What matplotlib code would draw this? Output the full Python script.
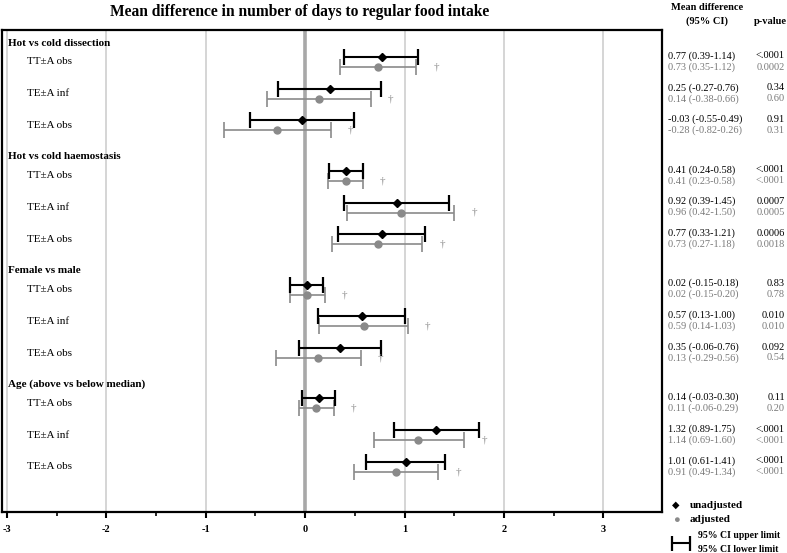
import matplotlib
matplotlib.use("Agg")
from matplotlib import pyplot as plt

plt.rcParams['font.family'] = ['Liberation Serif', 'DejaVu Serif']

groups = ["Hot vs cold dissection", "Hot vs cold haemostasis",
          "Female vs male", "Age (above vs below median)"]
rows = ["TT\u00b1A obs", "TE\u00b1A inf", "TE\u00b1A obs"]

# unadjusted: mean, lower, upper, p
unadj_mean = [0.77, 0.25, -0.03, 0.41, 0.92, 0.77, 0.02, 0.57, 0.35, 0.14, 1.32, 1.01]
unadj_lo = [0.39, -0.27, -0.55, 0.24, 0.39, 0.33, -0.15, 0.13, -0.06, -0.03, 0.89, 0.61]
unadj_hi = [1.14, 0.76, 0.49, 0.58, 1.45, 1.21, 0.18, 1.00, 0.76, 0.30, 1.75, 1.41]
unadj_p = ["<.0001", "0.34", "0.91", "<.0001", "0.0007", "0.0006",
           "0.83", "0.010", "0.092", "0.11", "<.0001", "<.0001"]

# adjusted
adj_mean = [0.73, 0.14, -0.28, 0.41, 0.96, 0.73, 0.02, 0.59, 0.13, 0.11, 1.14, 0.91]
adj_lo = [0.35, -0.38, -0.82, 0.23, 0.42, 0.27, -0.15, 0.14, -0.29, -0.06, 0.69, 0.49]
adj_hi = [1.12, 0.66, 0.26, 0.58, 1.50, 1.18, 0.20, 1.03, 0.56, 0.29, 1.60, 1.34]
adj_p = ["0.0002", "0.60", "0.31", "<.0001", "0.0005", "0.0018",
         "0.78", "0.010", "0.54", "0.20", "<.0001", "<.0001"]

xticks = [-3, -2, -1, 0, 1, 2, 3]

W, H = 787, 553
fig = plt.figure(figsize=(W / 100, H / 100), dpi=100)
ax = fig.add_axes([2 / W, 1 - 512 / H, 660 / W, 482 / H])
ax.set_xlim(-3.05, 3.59)
ax.set_ylim(512, 30)  # y measured in pixel rows from the top

black = "#000000"
grey = "#8a8a8a"
tgrey = "#7a7a7a"

for t in xticks:
    if t == 0:
        ax.axvline(t, color="#a8a8a8", lw=2.6, zorder=0)
    else:
        ax.axvline(t, color="#d2d2d2", lw=1.3, zorder=0)


def fx(px):
    return px / W


def fy(py):
    return 1 - py / H


k = 0
for g, name in enumerate(groups):
    hy = 43 + g * 113.8
    ax.text(-2.99, hy, name, fontsize=8, fontweight="bold", va="center", ha="left")
    for i, r in enumerate(rows):
        y = hy + 19 + i * 31.7
        ax.text(-2.8, y, r, fontsize=8, va="center", ha="left")
        yb = y - 5
        yg = y + 5
        ax.errorbar(unadj_mean[k], yb,
                    xerr=[[unadj_mean[k] - unadj_lo[k]], [unadj_hi[k] - unadj_mean[k]]],
                    fmt="D", color=black, ms=4.5, lw=1.5, capsize=6, capthick=1.6, zorder=3)
        ax.errorbar(adj_mean[k], yg,
                    xerr=[[adj_mean[k] - adj_lo[k]], [adj_hi[k] - adj_mean[k]]],
                    fmt="o", color=grey, ms=5, lw=1.2, capsize=5.5, capthick=1.2, zorder=2)
        ax.text(adj_hi[k] + 0.2, yg, "\u2020", color=grey, fontsize=8, ha="center", va="center")
        txt_b = "%.2f (%.2f-%.2f)" % (unadj_mean[k], unadj_lo[k], unadj_hi[k])
        txt_g = "%.2f (%.2f-%.2f)" % (adj_mean[k], adj_lo[k], adj_hi[k])
        fig.text(fx(668), fy(yb - 1), txt_b, fontsize=7.5, color=black, va="center", ha="left")
        fig.text(fx(668), fy(yg), txt_g, fontsize=7.5, color=tgrey, va="center", ha="left")
        fig.text(fx(785), fy(yb - 1), unadj_p[k], fontsize=7.5, color=black, va="center", ha="right")
        fig.text(fx(785), fy(yg), adj_p[k], fontsize=7.5, color=tgrey, va="center", ha="right")
        k += 1

ax.set_xticks(xticks)
ax.set_xticklabels([str(t) for t in xticks], fontsize=7.5, fontweight="bold")
ax.set_xticks([-2.5, -1.5, -0.5, 0.5, 1.5, 2.5], minor=True)
ax.tick_params(axis="x", which="major", length=4, width=1.5, direction="out", pad=5)
ax.tick_params(axis="x", which="minor", length=3, width=1.2, direction="out")
ax.set_yticks([])
for s in ax.spines.values():
    s.set_linewidth(1.6)

fig.text(fx(300), fy(12), "Mean difference in number of days to regular food intake",
         fontsize=11.2, fontweight="bold", ha="center", va="center")
fig.text(fx(707), fy(7), "Mean difference", fontsize=7.5, fontweight="bold", ha="center", va="center")
fig.text(fx(707), fy(21), "(95% CI)", fontsize=7.5, fontweight="bold", ha="center", va="center")
fig.text(fx(770), fy(21), "p-value", fontsize=7.5, fontweight="bold", ha="center", va="center")

# legend
fig.text(fx(676), fy(505), "\u25c6", fontsize=7, ha="center", va="center")
fig.text(fx(690), fy(505), "unadjusted", fontsize=8, fontweight="bold", ha="left", va="center")
fig.text(fx(676), fy(520), "\u25cf", fontsize=8, color=grey, ha="center", va="center")
fig.text(fx(690), fy(520), "adjusted", fontsize=8, fontweight="bold", ha="left", va="center")
lg = fig.add_axes([670 / W, 1 - 550 / H, 22 / W, 14 / H])
lg.axis("off")
lg.set_xlim(0, 1)
lg.set_ylim(0, 1)
lg.errorbar([0.5], [0.5], xerr=[[0.4], [0.4]], fmt="none", color=black, lw=1.5,
            capsize=6, capthick=1.6)
fig.text(fx(698), fy(536), "95% CI upper limit", fontsize=7, fontweight="bold", ha="left", va="center")
fig.text(fx(698), fy(549), "95% CI lower limit", fontsize=7, fontweight="bold", ha="left", va="center")

fig.savefig("out.png", dpi=100)
